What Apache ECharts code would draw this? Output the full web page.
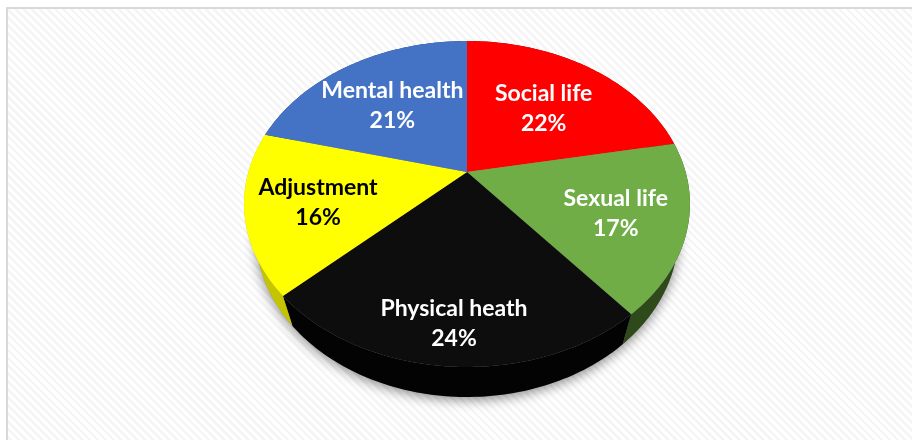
<!DOCTYPE html>
<html>
<head>
<meta charset="utf-8">
<title>Quality of life domains</title>
<script src="https://cdn.jsdelivr.net/npm/echarts@6/dist/echarts.min.js"></script>
<style>
html, body { margin: 0; padding: 0; background: #fff; overflow: hidden; }
#frame {
    position: absolute; left: 6px; top: 7px; width: 920px; height: 450px;
    border: 2px solid #d9d9d9;
    background: repeating-linear-gradient(45deg, #ffffff 0, #ffffff 3px, #f5f5f5 3px, #f5f5f5 5.6px);
}
#chart { position: absolute; left: 0; top: 0; width: 912px; height: 440px; }
</style>
</head>
<body>
<div id="frame"></div>
<div id="chart"></div>
<script>
// slices, clockwise from 12 o'clock
const categories = ['Social life', 'Sexual life', 'Physical heath', 'Adjustment', 'Mental health'];
const values = [22, 17, 24, 16, 21];
const topColors = ['#ff0000', '#70ad47', '#0d0d0d', '#ffff00', '#4472c4'];
const wallColors = ['#8c0000', '#2e4a1b', '#030303', '#c4c400', '#25407a'];
const labelColors = ['#ffffff', '#ffffff', '#ffffff', '#000000', '#ffffff'];

// how far out along the slice the label sits
const labelRadius = [0.6, 0.69, 0.8, 0.68, 0.61];

// tilted disc: perspective view of a unit circle
const view = { cx: 467, cy: 172, a: 218.6, b: 156.7, k: 0.1963, depth: 30, shrink: 0.948 };
const total = values.reduce((s, v) => s + v, 0);

function startAngle(idx) {
    let sum = 0;
    for (let i = 0; i < idx; i++) sum += values[i];
    return sum / total * Math.PI * 2;
}
function topPoint(angle, r) {
    const u = r * Math.sin(angle);
    const v = -r * Math.cos(angle);
    const w = 1 - view.k * v;
    return [view.cx + view.a * u / w, view.cy + view.b * v / w];
}
function bottomPoint(angle) {
    const p = topPoint(angle, 1);
    return [view.cx + (p[0] - view.cx) * view.shrink, p[1] + view.depth];
}
function arc(idx, fn) {
    const from = startAngle(idx);
    const to = from + values[idx] / total * Math.PI * 2;
    const pts = [];
    const steps = 80;
    for (let i = 0; i <= steps; i++) pts.push(fn(from + (to - from) * i / steps));
    return pts;
}

function renderShadow() {
    const pts = [];
    for (let i = 0; i < 240; i++) pts.push(bottomPoint(i / 240 * Math.PI * 2));
    return {
        type: 'polygon',
        shape: { points: pts },
        style: { fill: '#888', shadowBlur: 12, shadowColor: 'rgba(0,0,0,0.45)', shadowOffsetY: 3 }
    };
}
function renderWall(params) {
    const idx = params.dataIndex;
    const outer = arc(idx, a => topPoint(a, 1));
    const lower = arc(idx, bottomPoint).reverse();
    return {
        type: 'polygon',
        shape: { points: outer.concat(lower) },
        style: { fill: wallColors[idx] }
    };
}
function renderTop(params) {
    const idx = params.dataIndex;
    const pts = [[view.cx, view.cy]].concat(arc(idx, a => topPoint(a, 1)));
    const mid = startAngle(idx) + values[idx] / total * Math.PI;
    const pos = topPoint(mid, labelRadius[idx]);
    return {
        type: 'group',
        children: [
            { type: 'polygon', shape: { points: pts }, style: { fill: topColors[idx] } },
            {
                type: 'text',
                z2: 10,
                style: {
                    x: pos[0], y: pos[1] + 3,
                    text: categories[idx] + '\n' + values[idx] + '%',
                    fill: labelColors[idx],
                    font: 'bold 23px Lato',
                    lineHeight: 30,
                    align: 'center',
                    verticalAlign: 'middle'
                }
            }
        ]
    };
}

const myChart = echarts.init(document.getElementById('chart'), null, { renderer: 'canvas' });
const option = {
    animation: false,
    backgroundColor: 'transparent',
    series: [
        { type: 'custom', coordinateSystem: 'none', data: [0], renderItem: renderShadow, silent: true },
        { type: 'custom', coordinateSystem: 'none', data: values, renderItem: renderWall, silent: true },
        { type: 'custom', coordinateSystem: 'none', data: values, renderItem: renderTop }
    ]
};
myChart.setOption(option);
</script>
</body>
</html>
